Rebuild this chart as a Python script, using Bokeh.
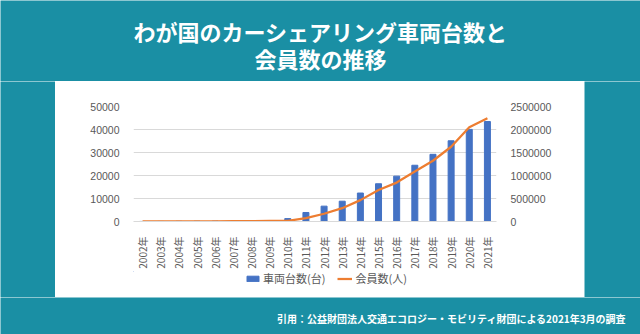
from bokeh.plotting import figure
from bokeh.layouts import column, row
from bokeh.models import (Range1d, LinearAxis, FactorRange, FixedTicker, NumeralTickFormatter,
                          Label, Legend, LegendItem, ColumnDataSource)
from bokeh.embed import file_html
from bokeh.resources import INLINE
import math

years = [f"{y}年" for y in range(2002, 2022)]
vehicles = [21, 42, 86, 118, 150, 190, 230, 280, 1265, 3915, 6674, 8831, 12373, 16418,
            19717, 24458, 29208, 35100, 40052, 43460]
members = [50, 850, 1712, 1656, 3245, 6396, 8000, 12000, 16000, 73000, 168000, 290000,
           465000, 685000, 846000, 1086000, 1321000, 1625000, 2048000, 2246000]
left_ticks = [0, 10000, 20000, 30000, 40000, 50000]
right_ticks = [0, 500000, 1000000, 1500000, 2000000, 2500000]

title1 = "わが国のカーシェアリング車両台数と"
title2 = "会員数の推移"
caption = "引用：公益財団法人交通エコロジー・モビリティ財団による2021年3月の調査"
leg_bar = "車両台数(台)"
leg_line = "会員数(人)"

TEAL = "#1a8fa4"
BLUE = "#4472c4"
ORANGE = "#ed7d31"
GRAY = "#595959"
JP = "Noto Sans CJK JP"


def blank(w, h, color=TEAL):
    f = figure(width=w, height=h, x_range=Range1d(0, w), y_range=Range1d(h, 0),
               output_backend="svg", toolbar_location=None,
               x_axis_location=None, y_axis_location=None, min_border=0)
    f.border_fill_color = color
    f.background_fill_color = color
    f.outline_line_color = None
    f.grid.visible = False
    return f


top = blank(640, 81)
for t, y in [(title1, 30), (title2, 57)]:
    top.add_layout(Label(x=320, y=y, text=t, text_align="center", text_baseline="middle",
                         text_font=JP, text_font_size="22px", text_font_style="bold",
                         text_color="white"))

bottom = blank(640, 37)
bottom.add_layout(Label(x=626, y=21, text=caption, text_align="right", text_baseline="middle",
                        text_font=JP, text_font_size="10px", text_font_style="bold",
                        text_color="white"))

left_pad = blank(55, 216)
right_pad = blank(56, 216)

src = ColumnDataSource(dict(x=years, v=vehicles, m=members))

p = figure(width=529, height=190, x_range=FactorRange(*years, range_padding=0),
           y_range=Range1d(0, 50000), output_backend="svg", toolbar_location=None,
           min_border_left=78, min_border_right=88, min_border_top=25, min_border_bottom=49)
p.border_fill_color = "white"
p.background_fill_color = "white"
p.outline_line_color = None
p.extra_y_ranges = {"m": Range1d(0, 2500000)}

p.vbar(x="x", top="v", width=0.33, source=src, color=BLUE)
p.line(x="x", y="m", source=src, y_range_name="m", line_color=ORANGE, line_width=2.25)

p.yaxis.ticker = FixedTicker(ticks=left_ticks)
p.yaxis.formatter = NumeralTickFormatter(format="0")
ra = LinearAxis(y_range_name="m", ticker=FixedTicker(ticks=right_ticks),
                formatter=NumeralTickFormatter(format="0"))
p.add_layout(ra, "right")

for ax in [p.yaxis[0], ra]:
    ax.axis_line_color = None
    ax.major_tick_line_color = None
    ax.minor_tick_line_color = None
    ax.major_label_text_font = "Liberation Sans"
    ax.major_label_text_font_size = "10.5px"
    ax.major_label_text_color = GRAY
    ax.major_label_standoff = 8

xa = p.xaxis[0]
xa.major_label_orientation = math.pi / 2
xa.axis_line_color = "#d9d9d9"
xa.major_tick_line_color = None
xa.major_label_text_font = JP
xa.major_label_text_font_size = "10px"
xa.major_label_text_color = GRAY
xa.major_label_standoff = 9

p.xgrid.grid_line_color = None
p.ygrid.grid_line_color = "#d9d9d9"
p.ygrid.ticker = FixedTicker(ticks=left_ticks)

# legend strip (its frame is aligned with the chart's frame by the column layout)
lg = blank(529, 26, color="white")
dummy = ColumnDataSource(dict(x=[-1000], y=[0]))
rb = lg.vbar(x="x", top="y", width=1, source=dummy, color=BLUE)
rl = lg.line(x="x", y="y", source=dummy, line_color=ORANGE, line_width=2.25)
legend = Legend(items=[LegendItem(label=leg_bar, renderers=[rb]),
                       LegendItem(label=leg_line, renderers=[rl])],
                orientation="horizontal", location=(112, 11),
                glyph_width=15, glyph_height=7, label_text_font=JP,
                label_text_font_size="11px", label_text_color=GRAY,
                background_fill_alpha=0, border_line_color=None, spacing=12,
                label_standoff=3, padding=2, margin=0)
lg.add_layout(legend, "center")

layout = column(top, row(left_pad, column(p, lg, spacing=0), right_pad, spacing=0),
                bottom, spacing=0)
open("out.html", "w").write(file_html(layout, INLINE))
